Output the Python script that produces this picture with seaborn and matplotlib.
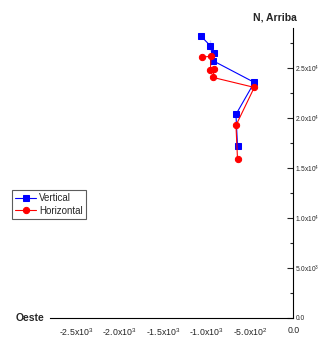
import numpy as np
import pandas as pd
import matplotlib
matplotlib.use("Agg")
import matplotlib.pyplot as plt
import seaborn as sns
from matplotlib.ticker import FixedLocator, MultipleLocator

# datos
vert_x = [-1060, -953, -953, -910, -925, -449, -660, -642]
vert_y = [28130, 27730, 26630, 26470, 25700, 23530, 20330, 17170]
horiz_x = [-1052, -948, -953, -907, -925, -449, -660, -642]
horiz_y = [26070, 26130, 24800, 24900, 24030, 23030, 19230, 15870]

x_ticks = [-2500, -2000, -1500, -1000, -500, 0]
x_labels = ["-2.5x10$^3$", "-2.0x10$^3$", "-1.5x10$^3$", "-1.0x10$^3$", "-5.0x10$^2$", "0.0"]
y_ticks = [0, 5000, 10000, 15000, 20000, 25000]
y_labels = ["0.0", "5.0x10$^3$", "1.0x10$^4$", "1.5x10$^4$", "2.0x10$^4$", "2.5x10$^4$"]

sns.set_style("white")
plt.rcParams['font.family'] = ['Liberation Sans', 'DejaVu Sans']
plt.rcParams['mathtext.fontset'] = 'custom'
plt.rcParams['mathtext.rm'] = 'Liberation Sans'

fig = plt.figure(figsize=(3.21, 3.42), dpi=100)
ax = fig.add_axes([50 / 321, (342 - 317.7) / 342, (293.3 - 50) / 321, (317.7 - 27.7) / 342])

df_v = pd.DataFrame({'x': vert_x, 'y': vert_y})
df_h = pd.DataFrame({'x': horiz_x, 'y': horiz_y})
sns.lineplot(data=df_v, x='x', y='y', sort=False, color='blue', marker='s', markersize=4.5,
             markeredgecolor='blue', linewidth=0.8, label='Vertical', ax=ax, legend=False)
sns.lineplot(data=df_h, x='x', y='y', sort=False, color='red', marker='o', markersize=4.5,
             markeredgecolor='red', linewidth=0.8, label='Horizontal', ax=ax, legend=False)

ax.set_xlim(-2800, 0)
ax.set_ylim(0, 29000)
ax.set_xlabel('')
ax.set_ylabel('')

for s in ['top', 'left']:
    ax.spines[s].set_visible(False)
for s in ['bottom', 'right']:
    ax.spines[s].set_color('black')
    ax.spines[s].set_linewidth(0.8)

ax.yaxis.tick_right()
ax.xaxis.set_major_locator(FixedLocator(x_ticks))
ax.xaxis.set_minor_locator(MultipleLocator(250))
ax.set_xticklabels(x_labels)
ax.yaxis.set_major_locator(FixedLocator(y_ticks))
ax.yaxis.set_minor_locator(MultipleLocator(2500))
ax.set_yticklabels(y_labels)

ax.tick_params(axis='x', which='major', direction='out', length=4, width=0.8, labelsize=6.3, pad=2)
ax.tick_params(axis='x', which='minor', direction='out', length=2.5, width=0.8)
ax.tick_params(axis='y', which='major', direction='in', length=4, width=0.8, labelsize=4.8, pad=1.5,
               left=False, right=True)
ax.tick_params(axis='y', which='minor', direction='in', length=2.5, width=0.8, left=False, right=True)

fig.text(275 / 321, 1 - 17 / 342, 'N, Arriba', fontsize=7.5, fontweight='bold', ha='center', va='center')
fig.text(30 / 321, 1 - 318 / 342, 'Oeste', fontsize=7.5, fontweight='bold', ha='center', va='center')

h, l = ax.get_legend_handles_labels()
leg = fig.legend(h, l, loc='upper left', bbox_to_anchor=(12 / 321, 1 - 190 / 342), fontsize=7,
                 frameon=True, fancybox=False, handlelength=2.2, handletextpad=0.3,
                 borderpad=0.3, labelspacing=0.3, borderaxespad=0)
leg.get_frame().set_edgecolor('#333333')
leg.get_frame().set_linewidth(0.8)

fig.savefig('out.png', dpi=100)
